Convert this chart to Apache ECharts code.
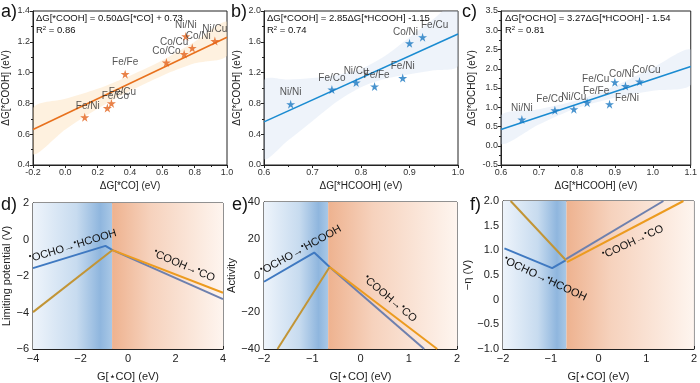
<!DOCTYPE html>
<html><head><meta charset="utf-8">
<script src="https://cdn.jsdelivr.net/npm/echarts@6/dist/echarts.min.js"></script>
<style>html,body{margin:0;padding:0;background:#fff}#c{width:700px;height:383px}</style>
</head><body><div id="c"></div>
<script>
// ---------- Data ----------
// Panel a
var aNames = ['Fe/Ni','Fe/Co','Fe/Cu','Fe/Fe','Co/Co','Co/Cu','Ni/Ni','Co/Ni','Ni/Cu'];
var aX = [0.12, 0.26, 0.285, 0.37, 0.625, 0.735, 0.745, 0.785, 0.925];
var aY = [0.71, 0.77, 0.80, 0.99, 1.065, 1.12, 1.235, 1.16, 1.205];
var aFitX = [-0.2, 1.0], aFitY = [0.63, 1.23];
var aBandX = [-0.2, 0.0, 0.2, 0.4, 0.6, 0.8, 1.0];
var aBandHi = [0.77, 0.83, 0.895, 0.98, 1.08, 1.20, 1.33];
var aBandLo = [0.47, 0.63, 0.765, 0.88, 0.98, 1.06, 1.11];
// Panel b
var bNames = ['Ni/Ni','Fe/Co','Ni/Cu','Fe/Fe','Fe/Ni','Co/Ni','Fe/Cu'];
var bX = [0.655, 0.74, 0.79, 0.828, 0.886, 0.90, 0.927];
var bY = [0.79, 0.98, 1.07, 1.02, 1.13, 1.58, 1.66];
var bFitX = [0.6, 1.0], bFitY = [0.56, 1.70];
var bBandX = [0.6, 0.65, 0.7, 0.75, 0.8, 0.85, 0.9, 0.95, 1.0];
var bBandHi = [1.10, 1.11, 1.13, 1.17, 1.25, 1.42, 1.66, 1.90, 2.12];
var bBandLo = [0.08, 0.32, 0.57, 0.82, 1.01, 1.12, 1.18, 1.23, 1.29];
// Panel c
var cNames = ['Ni/Ni','Fe/Co','Ni/Cu','Fe/Fe','Fe/Ni','Fe/Cu','Co/Ni','Co/Cu'];
var cX = [0.655, 0.742, 0.792, 0.827, 0.886, 0.90, 0.928, 0.965];
var cY = [0.68, 0.92, 0.95, 1.12, 1.08, 1.65, 1.55, 1.67];
var cFitX = [0.6, 1.1], cFitY = [0.42, 2.06];
var cBandX = [0.6, 0.7, 0.8, 0.9, 1.0, 1.1];
var cBandHi = [0.80, 0.95, 1.18, 1.55, 2.03, 2.50];
var cBandLo = [0.04, 0.55, 0.98, 1.25, 1.43, 1.58];
// Panel d (limiting potential)
var boundaryX = -0.67;
var dBlueLX = [-4, -0.95, -0.65], dBlueLY = [-1.57, -0.35, -0.58];
var dBlueRX = [-0.65, 4], dBlueRY = [-0.58, -3.27];
var dOrgLX = [-4, -0.65], dOrgLY = [-3.98, -0.58];
var dOrgRX = [-0.65, 4], dOrgRY = [-0.58, -2.92];
// Panel e (activity)
var eBlueLX = [-2, -0.96, -0.64], eBlueLY = [-3.4, 12.5, 4.6];
var eBlueRX = [-0.64, 1.32], eBlueRY = [4.6, -40];
var eOrgLX = [-1.72, -0.64], eOrgLY = [-40, 4.6];
var eOrgRX = [-0.64, 1.59], eOrgRY = [4.6, -40];
// Panel f (-eta)
var fBlueLX = [-1.97, -0.97, -0.68], fBlueLY = [1.04, 0.64, 0.80];
var fBlueRX = [-0.68, 1.36], fBlueRY = [0.82, 2.0];
var fOrgLX = [-1.84, -0.68], fOrgLY = [2.0, 0.80];
var fOrgRX = [-0.66, 1.78], fOrgRY = [0.76, 2.0];

// ---------- Helpers ----------
var FONT = 'Liberation Sans, Arial, sans-serif';
var STAR = 'path://M50,0 L61,35 L98,35 L68,57 L79,91 L50,70 L21,91 L32,57 L2,35 L39,35 Z';
function zip(xs, ys){ return xs.map(function(x,i){return [x, ys[i]];}); }
function minus(s){ return String(s).replace('-', '\u2212'); }

var labelStyle = {
  a: {'Fe/Ni':['top',[3,0]],'Fe/Co':['top',[8,0]],'Fe/Cu':['top',[11,0]],'Fe/Fe':['top',[0,0]],'Co/Co':['top',[0,0]],
      'Co/Cu':['top',[-10,0]],'Ni/Ni':['top',[0,0]],'Co/Ni':['top',[6,0]],'Ni/Cu':['top',[0,0]]},
  b: {'Ni/Ni':['top',[0,0]],'Fe/Co':['top',[0,0]],'Ni/Cu':['top',[0,0]],'Fe/Fe':['top',[2,0]],'Fe/Ni':['top',[0,0]],
      'Co/Ni':['top',[-4,0]],'Fe/Cu':['top',[12,0]]},
  c: {'Ni/Ni':['top',[0,0]],'Fe/Co':['top',[-5,0]],'Ni/Cu':['top',[0,0]],'Fe/Fe':['top',[9,0]],'Fe/Ni':['right',[-1,-6]],
      'Fe/Cu':['left',[1,-3]],'Co/Ni':['top',[-4,0]],'Co/Cu':['top',[7,0]]}
};

function scatter(idx, key, names, xs, ys, color){
  return {
    type:'scatter', xAxisIndex:idx, yAxisIndex:idx, symbol:STAR, symbolSize:9, z:5,
    itemStyle:{color:color},
    data: names.map(function(n,i){
      var ls = labelStyle[key][n];
      return {name:n, value:[xs[i], ys[i]], label:{show:true, position:ls[0], distance:2, offset:ls[1], formatter:n,
        fontSize:10, color:'#2a2a2a', fontFamily:FONT}};
    })
  };
}
function fitLine(idx, xs, ys, color){
  return {type:'line', xAxisIndex:idx, yAxisIndex:idx, data:zip(xs,ys), showSymbol:false, symbol:'none',
    lineStyle:{color:color, width:1.6}, z:4, silent:true};
}
function band(idx, xs, lo, hi, color){
  return {
    type:'custom', xAxisIndex:idx, yAxisIndex:idx, clip:true, silent:true, z:1,
    data:[[xs[0], lo[0]]],
    renderItem:function(params, api){
      var pts = [], i;
      for (i=0;i<xs.length;i++) pts.push(api.coord([xs[i], hi[i]]));
      for (i=xs.length-1;i>=0;i--) pts.push(api.coord([xs[i], lo[i]]));
      return {type:'polygon', shape:{points:pts, smooth:0.3}, style:{fill:color}};
    }
  };
}
function seg(idx, xs, ys, color, areas){
  var s = {type:'line', xAxisIndex:idx, yAxisIndex:idx, data:zip(xs,ys), symbol:'none', z:4, silent:true,
    lineStyle:{color:color, width:2}};
  if (areas) s.markArea = {silent:true, data:areas};
  return s;
}
function bgAreas(xmin, xmax){
  return [
    [{xAxis:xmin, itemStyle:{color:new echarts.graphic.LinearGradient(0,0,1,0,[
        {offset:0,color:'#eef4fb'},{offset:0.55,color:'#c7dbef'},{offset:0.85,color:'#8fb6de'},{offset:1,color:'#a9c8e6'}])}},
     {xAxis:boundaryX}],
    [{xAxis:boundaryX, itemStyle:{color:new echarts.graphic.LinearGradient(0,0,1,0,[
        {offset:0,color:'#eeb28f'},{offset:0.35,color:'#f6d2bd'},{offset:1,color:'#fef5ef'}])}},
     {xAxis:xmax}]
  ];
}

var grids = [
  {left:33, top:11, width:194, height:154},
  {left:264, top:11, width:194, height:154},
  {left:501, top:11, width:192, height:154},
  {left:33, top:203, width:190, height:149},
  {left:264, top:202, width:193, height:150},
  {left:503, top:201, width:192, height:150}
].map(function(g){ g.show=true; g.borderColor='#222'; g.borderWidth=1; g.backgroundColor='transparent'; return g; });

function axisTop(type, min, max, interval, name, gap, dec, rot){
  return {
    type:'value', min:min, max:max, interval:interval, name:name, nameLocation:'middle', nameGap:gap,
    nameRotate: rot, nameTextStyle:{fontSize:10, color:'#222', fontFamily:FONT},
    axisLine:{show:true, onZero:false, lineStyle:{color:'#222'}},
    axisTick:{show:true, inside:false, length:3, lineStyle:{color:'#222'}},
    minorTick:{show:true, splitNumber:2, length:2, lineStyle:{color:'#222'}},
    splitLine:{show:false},
    axisLabel:{fontSize:9, color:'#333', fontFamily:FONT, margin:3, formatter:function(v){return v.toFixed(dec);}}
  };
}
function axisBot(min, max, interval, name, gap, fmt, rot){
  return {
    type:'value', min:min, max:max, interval:interval, name:name, nameLocation:'middle', nameGap:gap,
    nameRotate: rot, nameTextStyle:{fontSize:11, color:'#222', fontFamily:FONT},
    axisLine:{show:true, onZero:false, lineStyle:{color:'#222', width:1.2}},
    axisTick:{show:true, inside:true, length:3, lineStyle:{color:'#222'}},
    splitLine:{show:false},
    axisLabel:{fontSize:11, color:'#222', fontFamily:FONT, margin:4, formatter:fmt}
  };
}
var intFmt = function(v){ return minus(v); };
var fFmt = function(v){ return v===0 ? '0' : minus(v.toFixed(1)); };

var xAxes = [
  axisTop('x', -0.2, 1.0, 0.2, '\u0394G[*CO] (eV)', 16, 1),
  axisTop('x', 0.6, 1.0, 0.1, '\u0394G[*HCOOH] (eV)', 16, 1),
  axisTop('x', 0.6, 1.1, 0.1, '\u0394G[*HCOOH] (eV)', 16, 1),
  axisBot(-4, 4, 2, 'G[\u22c6CO] (eV)', 22, intFmt),
  axisBot(-2, 2, 1, 'G[\u22c6CO] (eV)', 22, intFmt),
  axisBot(-2, 2, 1, 'G[\u22c6CO] (eV)', 22, intFmt)
];
var yAxes = [
  axisTop('y', 0.4, 1.4, 0.2, '\u0394G[*COOH] (eV)', 22, 1, 90),
  axisTop('y', 0, 2.0, 0.4, '\u0394G[*COOH] (eV)', 22, 1, 90),
  axisTop('y', -0.5, 3.5, 0.5, '\u0394G[*OCHO] (eV)', 24, 1, 90),
  axisBot(-6, 2, 2, 'Limiting potential (V)', 20, intFmt, 90),
  axisBot(-40, 40, 20, 'Activity', 25, intFmt, 90),
  axisBot(-1, 2, 0.5, '\u2212\u03b7 (V)', 25, fFmt, 90)
];
xAxes.forEach(function(a,i){ a.gridIndex=i; });
yAxes.forEach(function(a,i){ a.gridIndex=i; });

var ORG_STAR = '#e4631b', ORG_LINE = '#e8711d', BLUE_STAR = '#1a78c2', BLUE_LINE = '#1a8bd1';
var BL = '#3f79c1', BR = '#6e80ae', OL = '#c29536', OR = '#ec9b1f';

var series = [
  band(0, aBandX, aBandLo, aBandHi, 'rgba(252,225,185,0.45)'),
  fitLine(0, aFitX, aFitY, ORG_LINE),
  scatter(0, 'a', aNames, aX, aY, ORG_STAR),
  band(1, bBandX, bBandLo, bBandHi, 'rgba(205,220,242,0.35)'),
  fitLine(1, bFitX, bFitY, BLUE_LINE),
  scatter(1, 'b', bNames, bX, bY, BLUE_STAR),
  band(2, cBandX, cBandLo, cBandHi, 'rgba(205,220,242,0.35)'),
  fitLine(2, cFitX, cFitY, BLUE_LINE),
  scatter(2, 'c', cNames, cX, cY, BLUE_STAR),
  seg(3, dBlueLX, dBlueLY, BL, bgAreas(-4, 4)), seg(3, dBlueRX, dBlueRY, BR), seg(3, dOrgLX, dOrgLY, OL), seg(3, dOrgRX, dOrgRY, OR),
  seg(4, eBlueLX, eBlueLY, BL, bgAreas(-2, 2)), seg(4, eBlueRX, eBlueRY, BR), seg(4, eOrgLX, eOrgLY, OL), seg(4, eOrgRX, eOrgRY, OR),
  seg(5, fBlueLX, fBlueLY, BL, bgAreas(-2, 2)), seg(5, fBlueRX, fBlueRY, BR), seg(5, fOrgLX, fOrgLY, OL), seg(5, fOrgRX, fOrgRY, OR)
];

function txt(x, y, text, size, extra){
  var s = {text:text, x:0, y:0, fill:'#111', font: size+'px '+FONT};
  for (var k in (extra||{})) s[k]=extra[k];
  return {type:'text', x:x, y:y, z:100, style:s};
}
var rich = {s:{fontSize:8, verticalAlign:'top', padding:[0,0,5,0], fontFamily:FONT, fill:'#111'},
            n:{fontSize:11, fontFamily:FONT, fill:'#111'}};
function rot(x, y, text, deg){
  return {type:'text', x:x, y:y, rotation:deg*Math.PI/180, z:100,
    style:{text:text, align:'center', verticalAlign:'middle', rich:rich, fill:'#111', font:'11px '+FONT}};
}
var OCHO = '{s|\u2022}{n|OCHO\u2192}{s|\u2022}{n|HCOOH}';
var COOH = '{s|\u2022}{n|COOH\u2192}{s|\u2022}{n|CO}';
var R2rich = {sup:{fontSize:6, verticalAlign:'top', fill:'#111'}};

var graphic = [
  txt(1, 3, 'a)', 18), txt(231, 3, 'b)', 18), txt(462, 3, 'c)', 18),
  txt(1, 196, 'd)', 18), txt(232, 196, 'e)', 18), txt(470, 196, 'f)', 18),
  txt(36, 13, '\u0394G[*COOH] = 0.50\u0394G[*CO] + 0.73', 9.5),
  {type:'text', x:36, y:25, z:100, style:{text:'R{sup|2} = 0.86', rich:R2rich, fill:'#111', font:'9.5px '+FONT}},
  txt(267, 13, '\u0394G[*COOH] = 2.85\u0394G[*HCOOH] -1.15', 9.5),
  {type:'text', x:267, y:25, z:100, style:{text:'R{sup|2} = 0.74', rich:R2rich, fill:'#111', font:'9.5px '+FONT}},
  txt(505, 13, '\u0394G[*OCHO] = 3.27\u0394G[*HCOOH] - 1.54', 9.5),
  {type:'text', x:505, y:25, z:100, style:{text:'R{sup|2} = 0.81', rich:R2rich, fill:'#111', font:'9.5px '+FONT}},
  rot(73, 246, OCHO, 17), rot(184, 266, COOH, -23),
  rot(301, 250, OCHO, 29), rot(390, 299, COOH, -40),
  rot(545, 279, OCHO, -25), rot(633, 242, COOH, 25)
];

var chart = echarts.init(document.getElementById('c'), null, {renderer:'canvas'});
chart.setOption({
  animation:false, backgroundColor:'#fff',
  grid:grids, xAxis:xAxes, yAxis:yAxes, series:series, graphic:graphic
});
</script></body></html>
